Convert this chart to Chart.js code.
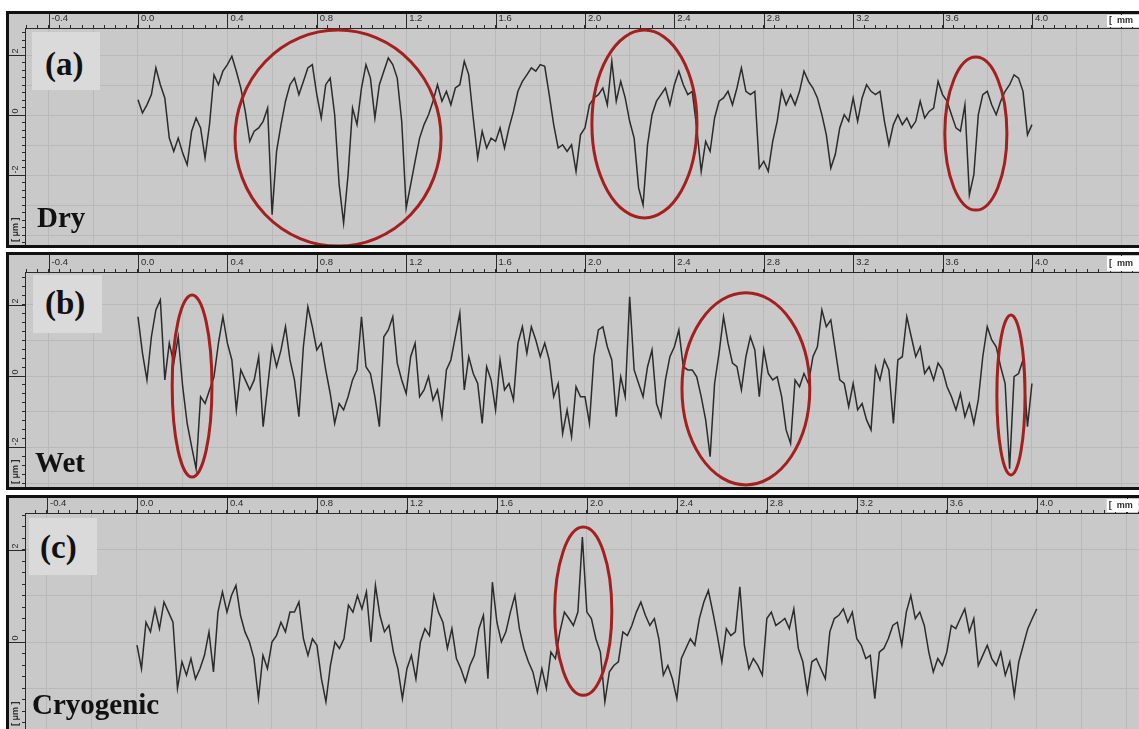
<!DOCTYPE html>
<html>
<head>
<meta charset="utf-8">
<script src="https://cdn.jsdelivr.net/npm/chart.js@4.4.1/dist/chart.umd.min.js"></script>
<style>
  html, body { margin: 0; padding: 0; background: #fff; }
  body { width: 1139px; height: 729px; overflow: hidden; position: relative; }
  .frame { position: absolute; left: 6px; width: 1130px; border: 3px solid #111; background: #c9c9c9; }
  .frame canvas { display: block; }
  .tag { position: absolute; background: #dadada; }
  .lbl { position: absolute; font-family: "Liberation Serif", "Times New Roman", serif; font-weight: bold; color: #111; white-space: nowrap; }
  .lbl.big { font-size: 33px; line-height: 33px; }
  .lbl.name { font-size: 29px; line-height: 29px; }
</style>
</head>
<body>
<div class="frame" style="top:11px;height:231px"><canvas id="dry" width="1130" height="231"></canvas></div>
<div class="frame" style="top:252px;height:232px"><canvas id="wet" width="1130" height="232"></canvas></div>
<div class="frame" style="top:495px;height:231px"><canvas id="cryo" width="1130" height="231"></canvas></div>

<div class="tag" style="left:32px;top:32px;width:68px;height:58px"></div>
<div class="tag" style="left:33px;top:275px;width:69px;height:58px"></div>
<div class="tag" style="left:29px;top:518px;width:68px;height:57px"></div>
<div class="lbl big" style="left:45px;top:48px">(a)</div>
<div class="lbl big" style="left:45px;top:287px">(b)</div>
<div class="lbl big" style="left:40px;top:531px">(c)</div>
<div class="lbl name" style="left:37px;top:203px">Dry</div>
<div class="lbl name" style="left:35px;top:448px">Wet</div>
<div class="lbl name" style="left:32px;top:690px">Cryogenic</div>

<script>
// Profile traces, one sample every 0.02 mm.
const DIST = [
  0, .02, .04, .06, .08, .10, .12, .14, .16, .18,
  .20, .22, .24, .26, .28, .30, .32, .34, .36, .38,
  .40, .42, .44, .46, .48, .50, .52, .54, .56, .58,
  .60, .62, .64, .66, .68, .70, .72, .74, .76, .78,
  .80, .82, .84, .86, .88, .90, .92, .94, .96, .98,
  1.00, 1.02, 1.04, 1.06, 1.08, 1.10, 1.12, 1.14, 1.16, 1.18,
  1.20, 1.22, 1.24, 1.26, 1.28, 1.30, 1.32, 1.34, 1.36, 1.38,
  1.40, 1.42, 1.44, 1.46, 1.48, 1.50, 1.52, 1.54, 1.56, 1.58,
  1.60, 1.62, 1.64, 1.66, 1.68, 1.70, 1.72, 1.74, 1.76, 1.78,
  1.80, 1.82, 1.84, 1.86, 1.88, 1.90, 1.92, 1.94, 1.96, 1.98,
  2.00, 2.02, 2.04, 2.06, 2.08, 2.10, 2.12, 2.14, 2.16, 2.18,
  2.20, 2.22, 2.24, 2.26, 2.28, 2.30, 2.32, 2.34, 2.36, 2.38,
  2.40, 2.42, 2.44, 2.46, 2.48, 2.50, 2.52, 2.54, 2.56, 2.58,
  2.60, 2.62, 2.64, 2.66, 2.68, 2.70, 2.72, 2.74, 2.76, 2.78,
  2.80, 2.82, 2.84, 2.86, 2.88, 2.90, 2.92, 2.94, 2.96, 2.98,
  3.00, 3.02, 3.04, 3.06, 3.08, 3.10, 3.12, 3.14, 3.16, 3.18,
  3.20, 3.22, 3.24, 3.26, 3.28, 3.30, 3.32, 3.34, 3.36, 3.38,
  3.40, 3.42, 3.44, 3.46, 3.48, 3.50, 3.52, 3.54, 3.56, 3.58,
  3.60, 3.62, 3.64, 3.66, 3.68, 3.70, 3.72, 3.74, 3.76, 3.78,
  3.80, 3.82, 3.84, 3.86, 3.88, 3.90, 3.92, 3.94, 3.96, 3.98,
  4.00
];

const DRY = [
  0.51, 0.07, 0.34, 0.68, 1.57, 1.01, 0.57, -0.77, -1.21, -0.77,
  -1.27, -1.66, -0.54, -0.10, -0.43, -1.43, -0.32, 1.34, 1.01, 1.46,
  1.68, 1.96, 1.46, 0.90, 0.12, -0.88, -0.54, -0.43, -0.21, 0.23,
  -3.32, -1.21, -0.32, 0.46, 1.01, 1.23, 0.68, 1.12, 1.57, 1.68,
  0.68, -0.10, 1.01, 1.23, 0.01, -2.32, -3.60, -1.99, 0.23, -0.32,
  0.90, 1.68, 1.23, -0.10, 1.01, 1.46, 1.90, 1.68, 1.23, -0.21,
  -3.10, -2.32, -1.54, -0.77, -0.32, 0.01, 0.46, 1.01, 0.46, 0.79,
  0.34, 0.90, 1.01, 1.79, 1.34, -0.10, -1.43, -0.54, -1.10, -0.77,
  -0.88, -0.43, -1.10, -0.43, 0.12, 0.79, 1.12, 1.34, 1.57, 1.46,
  1.68, 1.62, 0.68, -0.32, -1.10, -0.99, -1.21, -0.99, -1.88, -0.66,
  -0.43, 0.34, 0.57, 0.68, 0.90, 0.34, 1.79, 0.46, 1.12, 0.57,
  -0.21, -0.77, -2.43, -3.00, -0.99, 0.01, 0.46, 0.68, 0.90, 0.34,
  1.01, 1.46, 1.01, 0.68, 0.79, -0.43, -1.88, -0.88, -1.21, -0.10,
  0.46, 0.57, 0.79, 0.34, 0.90, 1.57, 0.79, 0.68, 0.79, -1.77,
  -1.54, -1.88, -0.88, -0.21, 0.79, 0.34, 0.68, 0.34, 0.79, 1.46,
  1.12, 0.90, 0.57, 0.01, -0.66, -1.77, -1.32, -0.43, 0.01, -0.21,
  0.57, -0.21, 0.57, 1.01, 0.79, 0.68, 0.79, -0.21, -0.99, -0.32,
  0.01, -0.32, -0.10, -0.43, -0.21, 0.46, -0.10, 0.12, 0.23, 1.12,
  0.68, 0.46, 0.01, -0.43, -0.54, 0.34, -2.66, -1.99, 0.01, 0.68,
  0.79, 0.34, 0.01, 0.46, 0.79, 1.01, 1.34, 1.23, 0.79, -0.66,
  -0.32
];

const WET = [
  1.66, 0.64, -0.11, 1.10, 1.85, 2.13, -0.11, 0.92, 0.36, 1.10,
  -0.30, -1.33, -1.98, -2.60, -0.58, -0.77, -0.39, -0.02, 0.92, 1.66,
  0.92, 0.45, -0.95, 0.17, -0.11, -0.39, -0.11, 0.54, -1.42, -0.30,
  0.82, 0.26, 0.73, 1.38, 0.45, -0.11, -1.14, 0.82, 1.94, 1.38,
  0.73, 0.92, 0.17, -0.49, -1.33, -0.77, -0.95, -0.58, -0.11, 0.17,
  1.66, 0.26, 0.07, -0.58, -1.42, 1.10, 1.29, 1.66, 0.36, -0.11,
  -0.49, 0.54, 0.92, -0.58, -0.39, -0.02, -0.67, -0.39, -1.14, 0.17,
  0.45, 1.10, 1.76, -0.39, 0.54, 0.07, -0.21, -1.33, 0.26, -0.11,
  -0.95, 0.45, -0.39, -0.21, -0.67, 0.92, 1.38, 0.64, 1.38, 1.01,
  0.54, 0.92, 0.45, -0.58, -0.21, -1.61, -0.95, -1.70, -0.30, -0.58,
  -0.58, -1.33, 0.54, 1.29, 1.38, 0.82, 0.45, -1.14, -0.02, -0.58,
  2.22, 0.17, -0.21, -0.58, 0.26, 0.73, -0.77, -1.14, -0.11, 0.54,
  0.82, 1.29, 0.26, 0.17, 0.17, -0.02, -0.58, -1.23, -2.26, -0.21,
  0.64, 1.66, 0.92, 0.36, 0.26, -0.39, 0.54, 1.10, 0.73, -0.58,
  0.73, 0.07, -0.11, -0.02, -0.58, -1.51, -1.89, -0.11, -0.30, 0.07,
  -0.21, 0.54, 0.82, 1.85, 1.38, 1.57, 0.73, -0.11, -0.21, -0.86,
  -0.21, -0.95, -0.77, -1.23, -1.51, 0.26, -0.11, 0.45, 0.17, -1.33,
  0.45, 0.54, 1.66, 1.10, 0.54, 0.82, 0.07, 0.26, -0.11, 0.36,
  0.17, -0.30, -0.58, -0.95, -0.49, -1.14, -0.77, -1.33, -0.67, 0.54,
  1.38, 1.01, 0.82, 0.26, -0.21, -2.60, -0.02, 0.07, 0.45, -1.42,
  -0.21
];

const CRYO = [
  -0.07, -0.58, 0.43, 0.22, 0.72, 0.29, 0.87, 0.65, 0.43, -1.01,
  -0.43, -0.72, -0.36, -0.80, -0.58, -0.29, 0.22, -0.65, 0.65, 1.09,
  0.65, 1.01, 1.23, 0.58, 0.22, 0.00, -0.36, -1.23, -0.29, -0.58,
  0.00, 0.14, 0.43, 0.22, 0.65, 0.65, 0.87, 0.07, -0.29, 0.07,
  -0.07, -0.80, -1.30, -0.51, 0.00, -0.14, 0.07, 0.80, 0.65, 1.01,
  0.72, 1.09, 0.00, 1.23, 0.58, 0.22, 0.36, -0.22, -0.58, -1.23,
  -0.58, -0.29, -0.80, 0.00, 0.29, 0.14, 1.01, 0.65, 0.43, -0.14,
  0.29, -0.36, -0.58, -0.87, -0.51, -0.29, 0.29, 0.58, -0.80, 1.30,
  0.43, 0.00, 0.22, 0.65, 1.01, 0.29, -0.14, -0.43, -0.65, -1.09,
  -0.58, -1.01, -0.22, -0.36, 0.22, 0.65, 0.51, 0.36, 0.65, 2.28,
  0.65, 0.51, 0.07, -0.22, -1.30, -0.65, -0.51, -0.43, 0.22, 0.14,
  0.36, 0.65, 0.87, 0.58, 0.36, 0.51, 0.07, -0.72, -0.51, -0.80,
  -1.23, -0.36, -0.14, 0.07, -0.07, 0.51, 0.87, 1.12, 0.65, 0.14,
  -0.43, 0.29, 0.14, 0.22, 1.20, -0.07, -0.58, -0.36, -0.51, -0.72,
  0.51, 0.65, 0.36, 0.43, 0.51, 0.29, 0.72, -0.14, -0.43, -1.09,
  -0.43, -0.36, -0.58, -0.80, 0.22, 0.51, 0.58, 0.72, 0.43, 0.65,
  0.07, -0.07, -0.36, -0.29, -1.23, -0.22, -0.14, 0.07, 0.36, 0.43,
  -0.07, 0.65, 1.01, 0.51, 0.65, 0.36, -0.22, -0.65, -0.36, -0.51,
  -0.22, 0.36, 0.29, 0.51, 0.72, 0.22, 0.51, -0.51, -0.29, -0.07,
  -0.36, -0.51, -0.22, -0.72, -0.43, -1.16, -0.43, -0.07, 0.29, 0.51,
  0.72
];

// Red rings marking the defects: [centre mm, centre µm, half-width mm, half-height µm]
const DRY_RINGS = [[0.895, -0.77, 0.461, 3.6], [2.266, -0.30, 0.235, 3.13], [3.749, -0.62, 0.139, 2.55]];
const WET_RINGS = [[0.242, -0.28, 0.089, 2.55], [2.72, -0.36, 0.286, 2.69], [3.906, -0.53, 0.063, 2.24]];
const CRYO_RINGS = [[1.984, 0.67, 0.127, 1.83]];

const INK = "#2a2a2a";
const GRID = "#b9b9b9";
const TRACE = "#2b2b2b";
const RING = "#a51f1f";
const TICK_FONT = { family: "Liberation Sans, Arial, sans-serif", size: 9.5 };

const isMult = (v, step) => Math.abs(v / step - Math.round(v / step)) < 1e-6;

// Ruler majors, rotated µm labels, unit boxes and the red rings.
const decor = {
  id: "decor",
  afterDatasetsDraw(chart, args, opts) {
    const { ctx, chartArea: a, scales: { x, y } } = chart;
    ctx.save();
    ctx.beginPath();
    ctx.rect(a.left, a.top, a.right - a.left, a.bottom - a.top);
    ctx.clip();
    ctx.strokeStyle = RING;
    ctx.lineWidth = 3;
    for (const [cx, cy, rx, ry] of opts.rings) {
      const px = x.getPixelForValue(cx), py = y.getPixelForValue(cy);
      const w = Math.abs(x.getPixelForValue(cx + rx) - px);
      const h = Math.abs(y.getPixelForValue(cy + ry) - py);
      ctx.beginPath();
      ctx.ellipse(px, py, w, h, 0, 0, Math.PI * 2);
      ctx.stroke();
    }
    ctx.restore();
  },
  afterDraw(chart) {
    const { ctx, chartArea: a, scales: { x, y } } = chart;
    ctx.save();
    ctx.strokeStyle = INK;
    ctx.fillStyle = INK;
    ctx.lineWidth = 1;
    for (const t of x.ticks) {
      if (!isMult(t.value, 0.4)) continue;
      const px = Math.round(x.getPixelForValue(t.value)) + 0.5;
      ctx.beginPath(); ctx.moveTo(px, x.top); ctx.lineTo(px, a.top); ctx.stroke();
    }
    ctx.font = "9px Liberation Sans, Arial, sans-serif";
    for (const t of y.ticks) {
      if (!isMult(t.value, 2) || t.value < -3) continue;
      const py = Math.round(y.getPixelForValue(t.value)) + 0.5;
      ctx.beginPath(); ctx.moveTo(y.left, py); ctx.lineTo(a.left, py); ctx.stroke();
      ctx.save();
      ctx.translate(y.left + 7, py - 2);
      ctx.rotate(-Math.PI / 2);
      ctx.textAlign = "left";
      ctx.textBaseline = "middle";
      ctx.fillText(String(t.value), 0, 0);
      ctx.restore();
    }
    // unit tags
    ctx.save();
    ctx.translate(y.left + 7, a.bottom - 3);
    ctx.rotate(-Math.PI / 2);
    ctx.textAlign = "left";
    ctx.textBaseline = "middle";
    ctx.font = "bold 9px Liberation Sans, Arial, sans-serif";
    ctx.fillText("[ \u03bcm ]", 0, 0);
    ctx.restore();
    ctx.fillStyle = "#fff";
    ctx.fillRect(a.right - 32, 1, 32, a.top - 2);
    ctx.fillStyle = INK;
    ctx.font = "bold 9px Liberation Sans, Arial, sans-serif";
    ctx.textBaseline = "middle";
    ctx.fillText("[", a.right - 30, a.top / 2);
    ctx.fillText("mm", a.right - 22, a.top / 2);
    ctx.restore();
  }
};

function panel(id, values, rings, xRange, yRange, rulerH) {
  new Chart(document.getElementById(id), {
    type: "line",
    data: {
      datasets: [{
        data: DIST.map((d, i) => ({ x: d, y: values[i] })),
        borderColor: TRACE, borderWidth: 1.5,
        pointRadius: 0, tension: 0,
      }],
    },
    options: {
      responsive: false, animation: false, events: [],
      layout: { padding: 0 },
      scales: {
        x: {
          type: "linear", position: "top", min: xRange[0], max: xRange[1],
          afterFit: s => { s.height = rulerH; },
          grid: {
            color: c => (c.tick && isMult(c.tick.value, 0.2)) ? GRID : "transparent",
            tickColor: INK, tickLength: 3,
          },
          border: { color: INK },
          ticks: {
            stepSize: 0.05, autoSkip: false, maxRotation: 0, includeBounds: false,
            align: "start", labelOffset: 3, padding: 1,
            color: INK, font: TICK_FONT,
            callback: v => isMult(v, 0.4) ? v.toFixed(1) : "",
          },
        },
        y: {
          position: "left", min: yRange[0], max: yRange[1],
          afterFit: s => { s.width = 16; },
          grid: {
            color: c => (c.tick && isMult(c.tick.value, 1)) ? GRID : "transparent",
            tickColor: INK, tickLength: 3,
          },
          border: { color: INK },
          ticks: { stepSize: 0.25, display: false, includeBounds: false },
        },
      },
      plugins: {
        legend: { display: false },
        tooltip: { enabled: false },
        decor: { rings },
      },
    },
    plugins: [decor],
  });
}

panel("dry", DRY, DRY_RINGS, [-0.5056, 4.479], [-4.333, 2.9], 14);
panel("wet", WET, WET_RINGS, [-0.5056, 4.479], [-3.109, 2.913], 17);
panel("cryo", CRYO, CRYO_RINGS, [-0.4978, 4.453], [-1.891, 2.804], 15);
</script>
</body>
</html>
